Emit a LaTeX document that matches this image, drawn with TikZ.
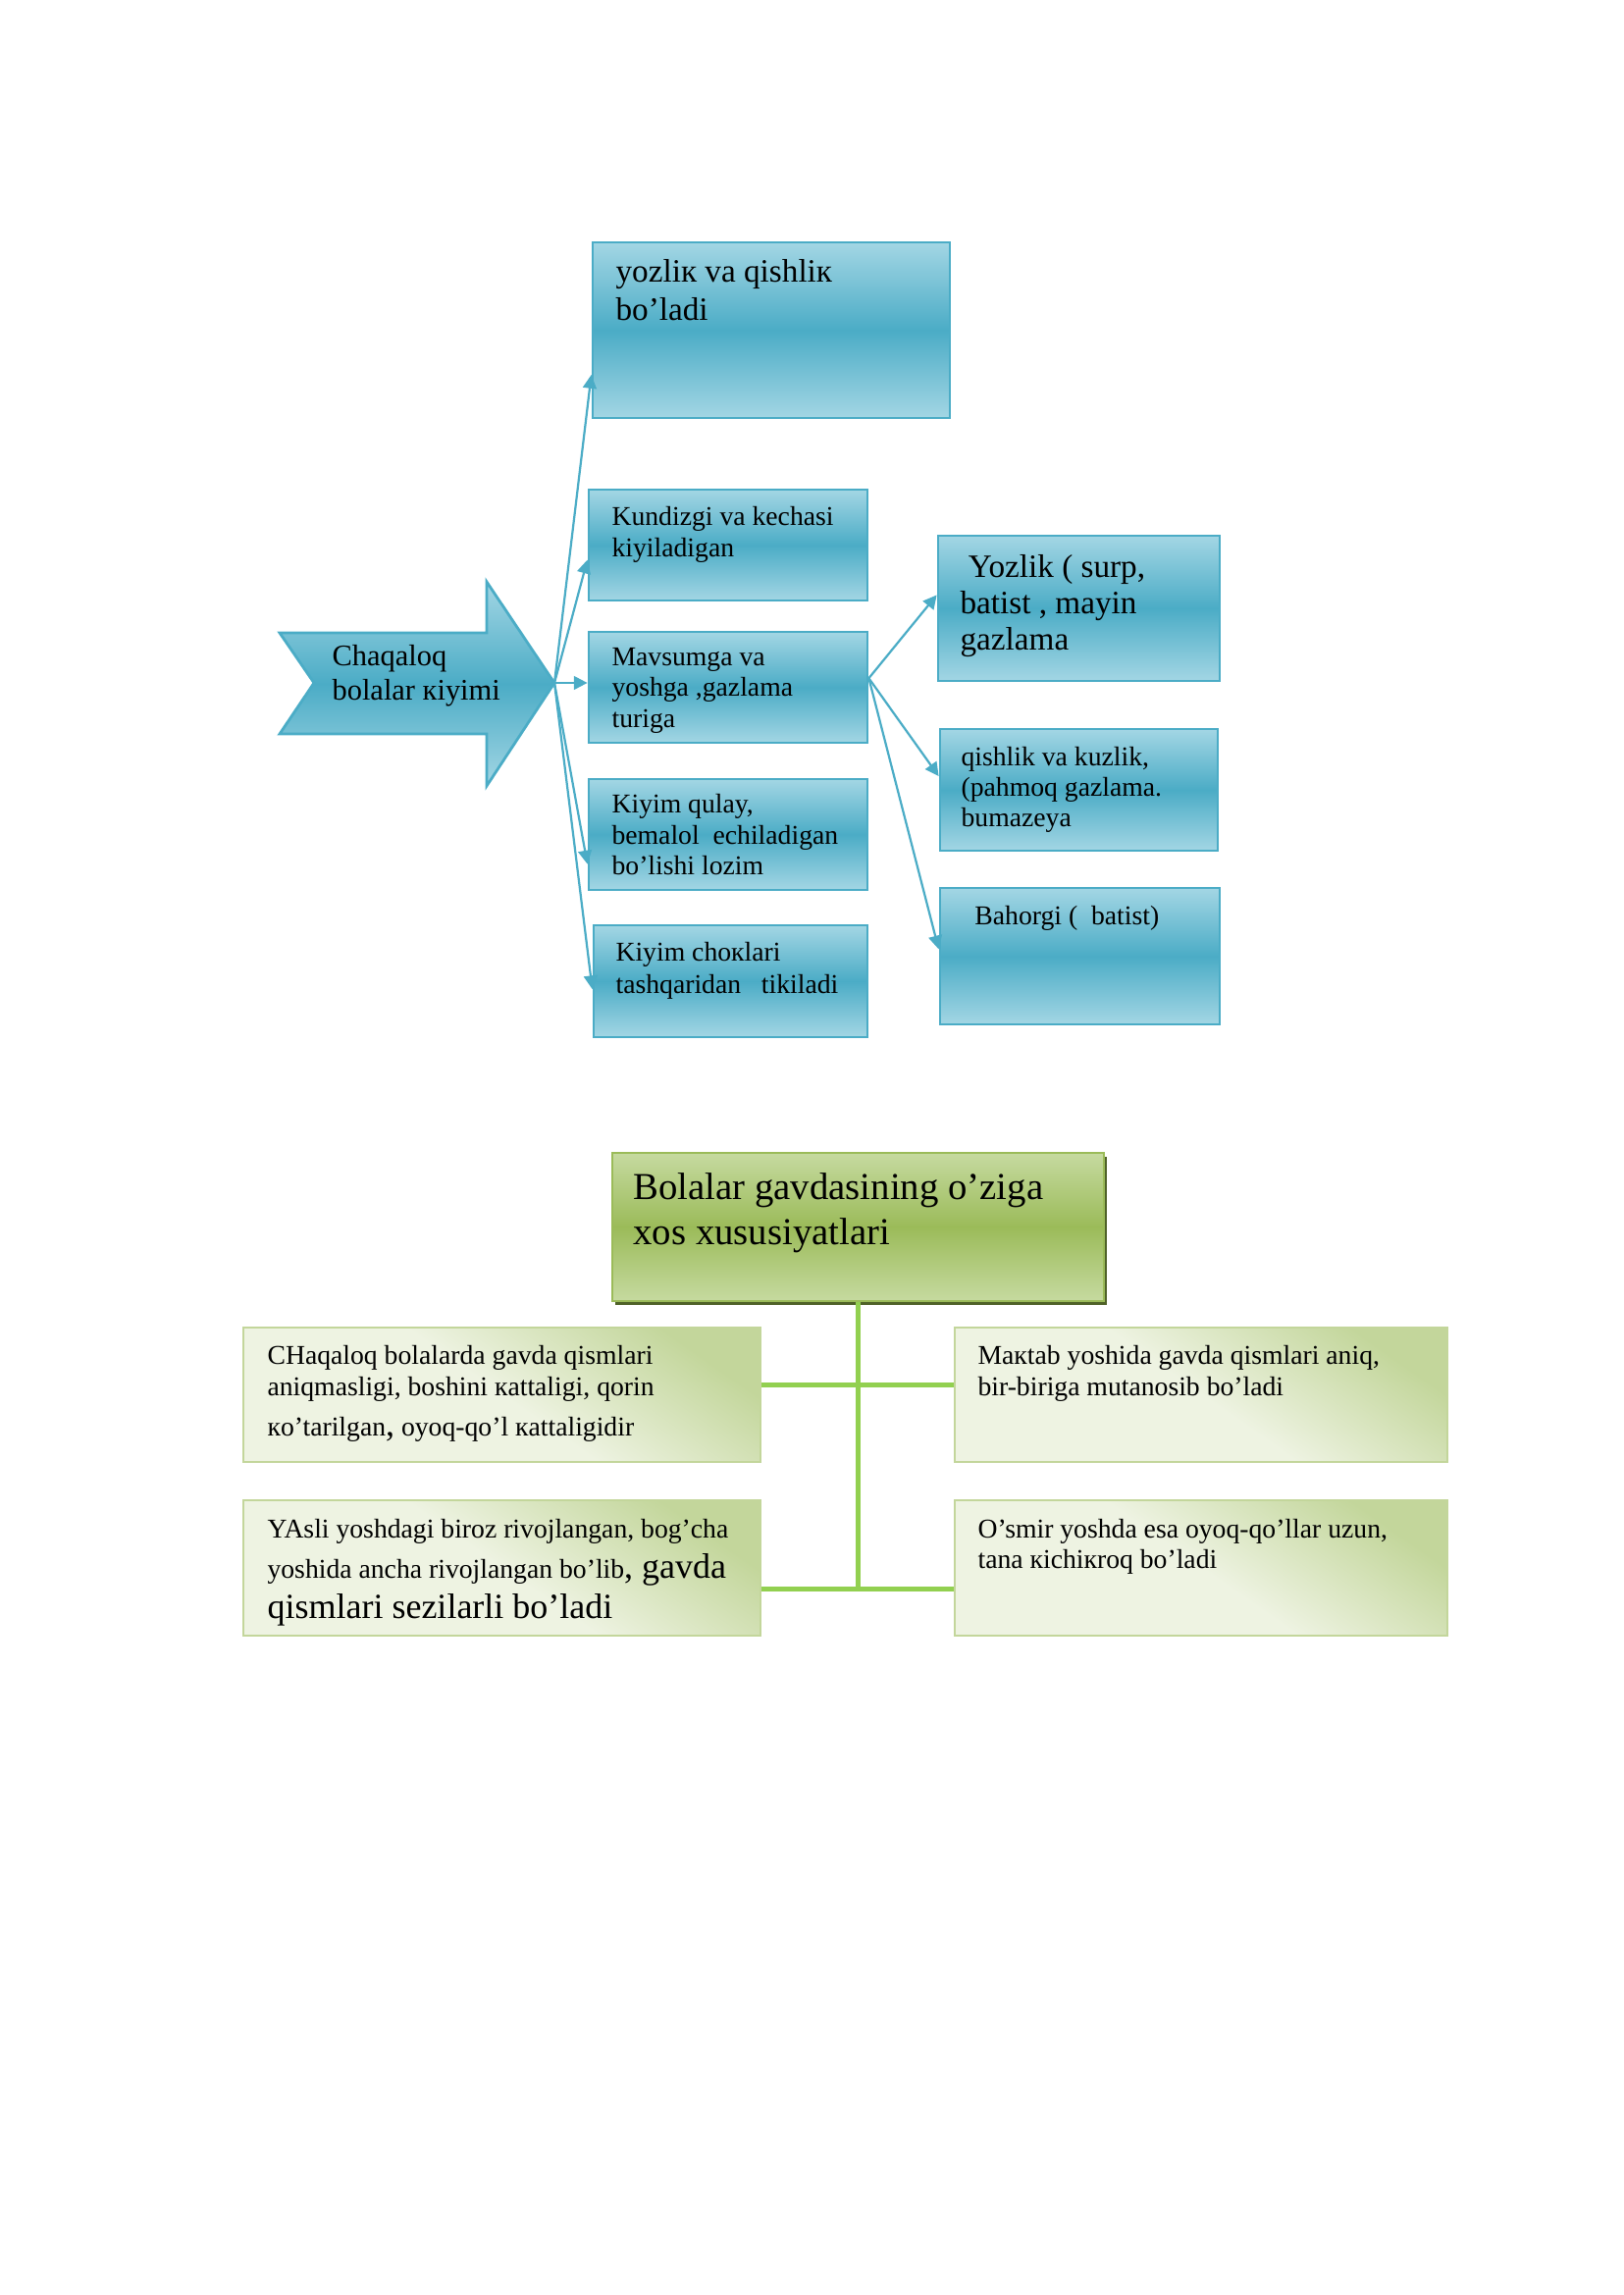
\documentclass[tikz,border=0pt]{standalone}
\usepackage{fontspec}
\setmainfont{Liberation Serif}
\usetikzlibrary{arrows.meta,calc,fit,shadows,positioning}

\definecolor{bluedk}{HTML}{4BACC6}
\definecolor{bluelt}{HTML}{A3D6E4}
\definecolor{grdk}{HTML}{9BBB59}
\definecolor{grlt}{HTML}{C6DAA0}
\definecolor{grshadow}{HTML}{4F6228}
\definecolor{grpale}{HTML}{EEF3E2}
\definecolor{grmid}{HTML}{C3D69B}
\definecolor{grline}{HTML}{92D050}

\tikzset{
  bluebox/.style={draw=bluedk, line width=1pt, top color=bluelt, bottom color=bluelt, middle color=bluedk, inner sep=0pt},
  greentop/.style={draw=grdk, line width=0.6pt, top color=grlt, bottom color=grlt, middle color=grdk, inner sep=0pt,
    drop shadow={shadow xshift=1.2pt, shadow yshift=-1.6pt, fill=grshadow, opacity=1}},
  greenbox/.style={draw=grmid, line width=1pt, top color=grmid, bottom color=grpale, middle color=grpale, shading angle=-35, inner sep=0pt},
  barrow/.style={draw=bluedk, line width=0.8pt, -{Triangle[length=5pt,width=5pt]}},
  gline/.style={draw=grline, line width=1.8pt},
  txt/.style={anchor=north west, inner sep=0pt, align=left, text=black},
  tsmall/.style={txt, font=\fontsize{10}{11.3}\selectfont},
  tbig/.style={txt, font=\fontsize{12}{13.6}\selectfont}
}

\begin{document}
\begin{tikzpicture}[x=0.0127cm, y=-0.0127cm]
  \useasboundingbox (0,0) rectangle (1654,2339);

  % Drawing arrow Chaqaloq
  \path[bluebox] (285,645) -- (496,645) -- (496,593) -- (565,696) -- (496,801) -- (496,748) -- (285,748) -- (320,696) -- cycle;%
  \coordinate (tip) at (565,696);%
  \node[txt, font=\fontsize{11}{12.6}\selectfont] (chaq) at (338,657) {Chaqaloq\\bolalar кiyimi};%

  % Drawing left column boxes
  \node[bluebox, fit={(604,247) (968,426)}] (yoz) {};%
  \node[tbig, font=\fontsize{12}{14}\selectfont] (yoz-t) at (627,264) {yozliк va qishliк\\bo’ladi};%
  \node[bluebox, fit={(600,499) (884,612)}] (kund) {};%
  \node[tsmall] (kund-t) at (623,516) {Kundizgi va kechasi\\kiyiladigan};%
  \node[bluebox, fit={(600,644) (884,757)}] (mav) {};%
  \node[tsmall] (mav-t) at (623,660) {Mavsumga va\\yoshga ,gazlama\\turiga};%
  \node[bluebox, fit={(600,794) (884,907)}] (qul) {};%
  \node[tsmall] (qul-t) at (623,809) {Kiyim qulay,\\bemalol\ \ echiladigan\\bo’lishi lozim};%
  \node[bluebox, fit={(605,943) (884,1057)}] (chok) {};%
  \node[tsmall, font=\fontsize{10}{11.9}\selectfont] (chok-t) at (627,960) {Kiyim choкlari\\tashqaridan\ \ \ tikiladi};%

  % Drawing right column boxes
  \node[bluebox, fit={(956,546) (1243,694)}] (yoz2) {};%
  \node[tbig, font=\fontsize{12}{13.3}\selectfont] (yoz2-t) at (978,565) {\ Yozlik ( surp,\\batist , mayin\\gazlama};%
  \node[bluebox, fit={(958,743) (1241,867)}] (qish) {};%
  \node[tsmall, font=\fontsize{10}{11.2}\selectfont] (qish-t) at (979,761) {qishlik va kuzlik,\\(pahmoq gazlama.\\bumazeya};%
  \node[bluebox, fit={(958,905) (1243,1044)}] (bah) {};%
  \node[tsmall] (bah-t) at (979,923) {\ \ Bahorgi (\ \ batist)};%

  % Drawing arrows from Chaqaloq
  \draw[barrow] (tip) -- ($(yoz.north west)!0.75!(yoz.south west)$);%
  \draw[barrow] (tip) -- ($(kund.north west)!0.63!(kund.south west)$);%
  \draw[barrow] (tip) -- (tip -| mav.west);%
  \draw[barrow] (tip) -- ($(qul.north west)!0.76!(qul.south west)$);%
  \draw[barrow] (tip) -- ($(chok.north west)!0.57!(chok.south west)$);%

  % Drawing arrows from Mavsumga
  \coordinate (mavout) at ($(mav.north east)!0.42!(mav.south east)$);%
  \draw[barrow] (mavout) -- ($(yoz2.north west)!0.41!(yoz2.south west)$);%
  \draw[barrow] (mavout) -- ($(qish.north west)!0.39!(qish.south west)$);%
  \draw[barrow] (mavout) -- ($(bah.north west)!0.45!(bah.south west)$);%

  % Drawing green title box
  \node[greentop, fit={(624,1175) (1125,1326)}] (gtop) {};%
  \node[txt, font=\fontsize{14}{16.6}\selectfont] (gtop-t) at (645,1195) {Bolalar gavdasining o’ziga\\xos xususiyatlari};%

  % Drawing green boxes
  \node[greenbox, fit={(248,1353) (775,1490)}] (lb1) {};%
  \node[tsmall, font=\fontsize{10}{11.5}\selectfont] (lb1-t) at (272,1371) {CHaqaloq bolalarda gavda qismlari\\aniqmasligi, boshini кattaligi, qorin\\[3.3pt]кo’tarilgan{\fontsize{13}{14}\selectfont,} oyoq-qo’l кattaligidir};%
  \node[greenbox, fit={(973,1353) (1475,1490)}] (rb1) {};%
  \node[tsmall, font=\fontsize{10}{11.5}\selectfont] (rb1-t) at (996,1371) {Maкtab yoshida gavda qismlari aniq,\\bir-biriga mutanosib bo’ladi};%
  \node[greenbox, fit={(248,1529) (775,1667)}] (lb2) {};%
  \node[tsmall, font=\fontsize{10}{11.5}\selectfont] (lb2-t) at (272,1548) {YAsli yoshdagi biroz rivojlangan, bog’cha\\[3.3pt]yoshida ancha rivojlangan bo’lib{\fontsize{13}{14}\selectfont, gavda}\\[1.8pt]{\fontsize{13}{14}\selectfont qismlari sezilarli bo’ladi}};%
  \node[greenbox, fit={(973,1529) (1475,1667)}] (rb2) {};%
  \node[tsmall, font=\fontsize{10}{11.2}\selectfont] (rb2-t) at (996,1548) {O’smir yoshda esa oyoq-qo’llar uzun,\\tana кichiкroq bo’ladi};%

  % Drawing green connectors
  \coordinate (lb1p) at ($(lb1.north east)!0.43!(lb1.south east)$);%
  \coordinate (lb2p) at ($(lb2.north east)!0.65!(lb2.south east)$);%
  \draw[gline] (lb1p) -- (lb1p -| rb1.west);%
  \draw[gline] (lb2p) -- (lb2p -| rb2.west);%
  \draw[gline] (gtop.south) -- (gtop.south |- lb2p);%
\end{tikzpicture}
\end{document}
